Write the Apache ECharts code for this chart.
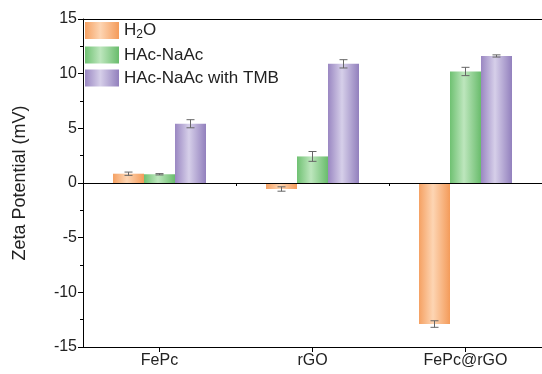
<!DOCTYPE html>
<html>
<head>
<meta charset="utf-8">
<script src="https://cdn.jsdelivr.net/npm/echarts@6/dist/echarts.min.js"></script>
<style>
  html, body { margin: 0; padding: 0; background: #fff; }
  #chart { width: 542px; height: 374px; }
</style>
</head>
<body>
<div id="chart"></div>
<script>
// Samples on the x axis
const categories = ['FePc', 'rGO', 'FePc@rGO'];

// Zeta potential (mV) per medium, with standard deviations
const h2oValues = [0.85, -0.55, -12.9];
const h2oErrors = [0.15, 0.2, 0.3];
const hacValues = [0.8, 2.43, 10.2];
const hacErrors = [0.06, 0.45, 0.38];
const tmbValues = [5.42, 10.9, 11.62];
const tmbErrors = [0.37, 0.38, 0.1];

const seriesNames = ['H2O', 'HAc-NaAc', 'HAc-NaAc with TMB'];

// Y axis ticks
const yMin = -15, yMax = 15, yStep = 5;

const BAR_W = 31;

function barGradient(edge, light, dark) {
  return new echarts.graphic.LinearGradient(0, 0, 1, 0, [
    { offset: 0, color: edge },
    { offset: 0.45, color: light },
    { offset: 1, color: dark }
  ]);
}

const fills = [
  barGradient('#F5A163', '#FDD5B3', '#F49B5A'),
  barGradient('#6FC172', '#BDE6BD', '#69BC6C'),
  barGradient('#9A87C2', '#D6CFE9', '#9280BD')
];

function errorSeries(values, errors, offset) {
  return {
    type: 'custom',
    xAxisIndex: 0,
    yAxisIndex: 0,
    z: 5,
    silent: true,
    data: values.map((v, i) => [i, v - errors[i], v + errors[i]]),
    renderItem: function (params, api) {
      const lo = api.coord([api.value(0), api.value(1)]);
      const hi = api.coord([api.value(0), api.value(2)]);
      const x = lo[0] + offset;
      const cap = 4;
      const style = { stroke: '#666', lineWidth: 1 };
      return {
        type: 'group',
        children: [
          { type: 'line', shape: { x1: x, y1: lo[1], x2: x, y2: hi[1] }, style: style },
          { type: 'line', shape: { x1: x - cap, y1: lo[1], x2: x + cap, y2: lo[1] }, style: style },
          { type: 'line', shape: { x1: x - cap, y1: hi[1], x2: x + cap, y2: hi[1] }, style: style }
        ]
      };
    }
  };
}

const font = 'Arial, "Liberation Sans", Helvetica, sans-serif';

const chart = echarts.init(document.getElementById('chart'), null, { renderer: 'canvas' });

chart.setOption({
  animation: false,
  backgroundColor: '#fff',
  textStyle: { fontFamily: font },
  grid: { left: 83, top: 19, bottom: 27, right: -8, containLabel: false },
  legend: {
    data: seriesNames,
    orient: 'vertical',
    left: 85,
    top: 22,
    padding: 0,
    itemWidth: 34,
    itemHeight: 17,
    itemGap: 6,
    icon: 'rect',
    textStyle: {
      fontFamily: font,
      fontSize: 17,
      color: '#222',
      rich: {
        n: { fontSize: 17, color: '#222', fontFamily: font },
        s: { fontSize: 12, color: '#222', fontFamily: font, verticalAlign: 'bottom', padding: [8, 0, 0, 0] }
      }
    },
    formatter: function (name) {
      if (name === 'H2O') return '{n|H}{s|2}{n|O}';
      return '{n|' + name + '}';
    }
  },
  xAxis: [
    {
      type: 'category',
      data: categories,
      position: 'bottom',
      axisLine: { show: true, onZero: false, lineStyle: { color: '#000', width: 1 } },
      axisTick: { show: true, alignWithLabel: true, length: 5, lineStyle: { color: '#000' } },
      axisLabel: { fontSize: 16, color: '#222', margin: 6, fontFamily: font }
    },
    {
      type: 'category',
      data: categories,
      position: 'bottom',
      axisLine: { show: false },
      axisTick: { show: true, length: 3, lineStyle: { color: '#000' } },
      axisLabel: { show: false }
    },
    {
      type: 'category',
      data: categories,
      position: 'top',
      axisLine: { show: true, onZero: false, lineStyle: { color: '#000', width: 1 } },
      axisTick: { show: false },
      axisLabel: { show: false }
    }
  ],
  yAxis: {
    type: 'value',
    min: yMin,
    max: yMax,
    interval: yStep,
    name: 'Zeta Potential (mV)',
    nameLocation: 'middle',
    nameRotate: 90,
    nameGap: 54,
    nameTextStyle: { fontSize: 18, color: '#222', fontFamily: font },
    axisLine: { show: true, onZero: false, lineStyle: { color: '#000', width: 1 } },
    axisTick: { show: true, length: 5, lineStyle: { color: '#000' } },
    minorTick: { show: true, splitNumber: 2, length: 3, lineStyle: { color: '#000' } },
    splitLine: { show: false },
    axisLabel: { fontSize: 16, color: '#222', margin: 6, fontFamily: font }
  },
  series: [
    {
      name: seriesNames[0],
      type: 'bar',
      data: h2oValues,
      barWidth: BAR_W,
      barGap: '0%',
      itemStyle: { color: fills[0] },
      markLine: {
        silent: true,
        symbol: 'none',
        label: { show: false },
        lineStyle: { color: '#000', type: 'solid', width: 1 },
        data: [{ yAxis: 0 }]
      }
    },
    {
      name: seriesNames[1],
      type: 'bar',
      data: hacValues,
      barWidth: BAR_W,
      barGap: '0%',
      itemStyle: { color: fills[1] }
    },
    {
      name: seriesNames[2],
      type: 'bar',
      data: tmbValues,
      barWidth: BAR_W,
      barGap: '0%',
      itemStyle: { color: fills[2] }
    },
    errorSeries(h2oValues, h2oErrors, -BAR_W),
    errorSeries(hacValues, hacErrors, 0),
    errorSeries(tmbValues, tmbErrors, BAR_W)
  ]
});
</script>
</body>
</html>
